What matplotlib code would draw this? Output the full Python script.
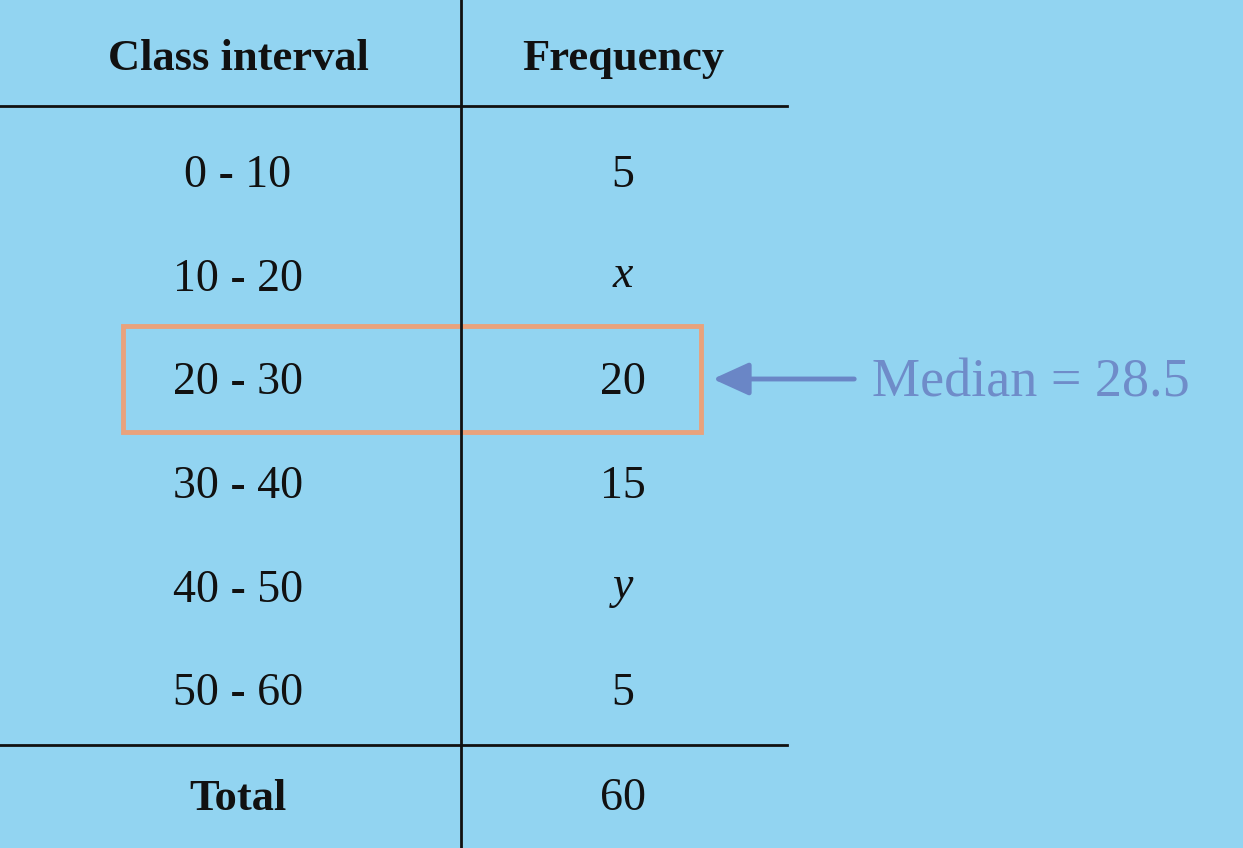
import matplotlib
matplotlib.use("Agg")
import matplotlib.pyplot as plt
from matplotlib.patches import Rectangle

headers = ["Class interval", "Frequency"]
classes = ["0 - 10", "10 - 20", "20 - 30", "30 - 40", "40 - 50", "50 - 60"]
freqs = ["5", "x", "20", "15", "y", "5"]
total_label = "Total"
total_value = "60"
median_text = "Median = 28.5"

W, H = 1243, 848
fig = plt.figure(figsize=(W/100, H/100), dpi=100)
fig.patch.set_facecolor("#92d4f1")
ax = fig.add_axes([0, 0, 1, 1])
ax.set_xlim(0, W); ax.set_ylim(H, 0); ax.axis("off")
ax.set_facecolor("#92d4f1")

serif = "Liberation Serif"
c1, c2 = 238, 623
lc = "#111111"
ax.plot([461, 461], [0, H], color=lc, lw=2)
ax.plot([0, 787], [106, 106], color=lc, lw=2)
ax.plot([0, 787], [745, 745], color=lc, lw=2)

dy = 4
ax.text(c1, 55 + dy, headers[0], family=serif, weight="bold", fontsize=32, ha="center", va="center", color="#111")
ax.text(c2, 55 + dy, headers[1], family=serif, weight="bold", fontsize=32, ha="center", va="center", color="#111")

ys = [172, 276, 379, 483, 587, 690]
for y, c, f in zip(ys, classes, freqs):
    ax.text(c1, y + dy, c, family=serif, fontsize=33, ha="center", va="center", color="#111")
    st = "italic" if f.isalpha() else "normal"
    ax.text(c2, y + dy - (4 if f.isalpha() else 0), f, family=serif, fontsize=33, style=st, ha="center", va="center", color="#111")
ax.text(c1, 795 + dy, total_label, family=serif, weight="bold", fontsize=32, ha="center", va="center", color="#111")
ax.text(c2, 795 + dy, total_value, family=serif, fontsize=33, ha="center", va="center", color="#111")

ax.add_patch(Rectangle((123, 326), 578, 106, fill=False, ec="#e9a27c", lw=3.5))
ax.annotate("", xy=(710, 379), xytext=(857, 379),
            arrowprops=dict(arrowstyle="-|>,head_length=2.2,head_width=1.0", color="#6a86c6", lw=3.5))
ax.text(872, 379 + dy, median_text, family=serif, fontsize=39, ha="left", va="center", color="#6f8cc9")

fig.savefig("out.png", dpi=100, facecolor=fig.get_facecolor())
